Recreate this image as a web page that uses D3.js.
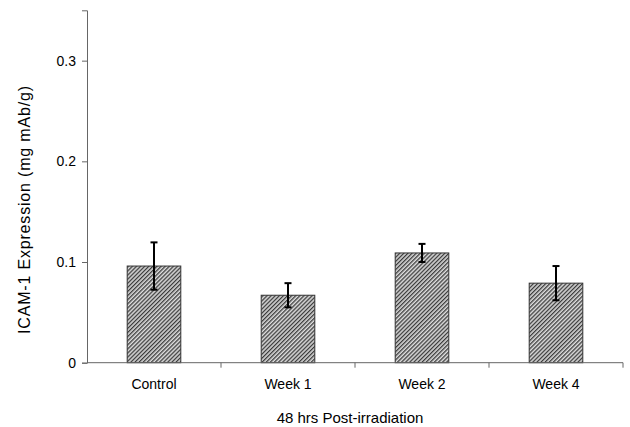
<!DOCTYPE html>
<html><head><meta charset="utf-8">
<script src="https://cdn.jsdelivr.net/npm/d3@7"></script>
<style>body{margin:0;background:#fff}svg{display:block}text{font-family:Arial,"Liberation Sans",sans-serif;fill:#000}</style>
</head><body>
<svg id="c" width="630" height="427"></svg>
<script>
const categories = ["Control", "Week 1", "Week 2", "Week 4"];
const values = [0.096, 0.067, 0.109, 0.079];
const errors = [0.0235, 0.012, 0.009, 0.017];
const yTicks = [0, 0.1, 0.2, 0.3];
const yTickLabels = ["0", "0.1", "0.2", "0.3"];
const yLabel = "ICAM-1 Expression (mg mAb/g)";
const xLabel = "48 hrs Post-irradiation";

const svg = d3.select("#c");
const L = 87, R = 623, T = 10.3, B = 362.7;
const x = d3.scaleBand().domain(categories).range([L, R]).paddingInner(0.6).paddingOuter(0.3);
const y = d3.scaleLinear().domain([0, 0.35]).range([B, T]);

const defs = svg.append("defs");
const pw = 2.9;
const pat = defs.append("pattern").attr("id", "hatch").attr("patternUnits", "userSpaceOnUse")
  .attr("width", pw).attr("height", pw).attr("patternTransform", "rotate(45)");
pat.append("rect").attr("width", pw).attr("height", pw).attr("fill", "#dcdcdc");
pat.append("rect").attr("x", 0).attr("width", 1.3).attr("height", pw).attr("fill", "#3a3a3a");

// bars
svg.append("g").selectAll("rect").data(categories).join("rect")
  .attr("x", d => x(d)).attr("width", x.bandwidth())
  .attr("y", (d, i) => y(values[i])).attr("height", (d, i) => y(0) - y(values[i]))
  .attr("fill", "url(#hatch)").attr("stroke", "#333").attr("stroke-width", 1);

// error bars
const eg = svg.append("g").attr("stroke", "#000").attr("stroke-width", 2);
categories.forEach((c, i) => {
  const cx = x(c) + x.bandwidth() / 2;
  eg.append("line").attr("x1", cx).attr("x2", cx).attr("y1", y(values[i] + errors[i])).attr("y2", y(values[i] - errors[i]));
  [values[i] + errors[i], values[i] - errors[i]].forEach(v => {
    eg.append("line").attr("x1", cx - 3.5).attr("x2", cx + 3.5).attr("y1", y(v)).attr("y2", y(v));
  });
});

// y axis
const yAxis = d3.axisLeft(y).tickValues(yTicks).tickFormat((d, i) => yTickLabels[i]).tickSizeOuter(0).tickSize(5).tickPadding(6);
const gy = svg.append("g").attr("transform", `translate(${L},0)`).call(yAxis);
gy.select(".domain").attr("stroke", "#666");
gy.selectAll(".tick line").attr("stroke", "#666");
gy.selectAll(".tick text").attr("font-size", 14).style("font-family", "Arial, 'Liberation Sans', sans-serif");

// x axis
const xl = d3.scaleLinear().domain([0, categories.length]).range([L, R]);
const gx = svg.append("g").attr("transform", `translate(0,${B})`);
gx.append("line").attr("x1", L).attr("x2", R).attr("stroke", "#666");
gx.selectAll(".tk").data(d3.range(1, categories.length + 1)).join("line")
  .attr("x1", d => xl(d)).attr("x2", d => xl(d)).attr("y1", 0).attr("y2", 5).attr("stroke", "#666");
gx.selectAll("text").data(categories).join("text")
  .attr("x", d => x(d) + x.bandwidth() / 2).attr("y", 26).attr("text-anchor", "middle").attr("font-size", 14).text(d => d);

// labels
svg.append("text").attr("x", 350).attr("y", 423).attr("text-anchor", "middle").attr("font-size", 15).text(xLabel);
svg.append("text").attr("transform", "translate(30,210) rotate(-90)").attr("text-anchor", "middle")
  .attr("font-size", 16).attr("textLength", 248).attr("lengthAdjust", "spacing").text(yLabel);
</script>
</body></html>
